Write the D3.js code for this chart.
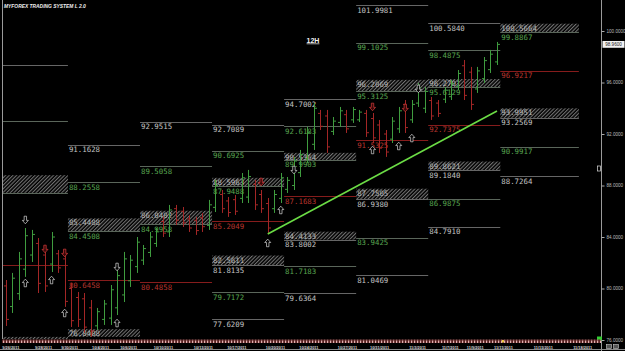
<!DOCTYPE html>
<html>
<head>
<meta charset="utf-8">
<script src="https://cdn.jsdelivr.net/npm/d3@7"></script>
<style>
  html, body { margin: 0; padding: 0; background: #000; overflow: hidden; }
  svg { display: block; }
</style>
</head>
<body>
<svg id="chart" width="625" height="351"></svg>
<script>
// 12H OHLC bars, index 0 = first bar on screen (26 Sep 2011)
const open = [80.2,78.6,79.6,81.5,82.6,83.5,82.6,81.9,82.7,82.3, 80.0,79.3,79.2,78.5,77.1,77.6,77.7,78.5,79.5,80.6,
              81.7,82.2,82.8,83.5,85.2,84.4,86.2,86.0,85.4,85.3, 85.5,84.9,86.3,87.3,86.8,86.9,87.0,87.1,88.1,87.3,
              86.6,86.2,87.0,87.7,88.0,89.0,90.1,91.2,93.6,93.4, 92.2,92.9,93.5,93.1,93.1,93.6,93.2,92.7,92.0,91.6,
              92.4,94.3,93.1,94.4,94.0,94.6,94.4,94.7,94.9,95.7, 97.3,96.8,95.5,96.3,97.0,97.6];
const high = [80.66,81.21,82.84,84.70,84.55,83.92,83.23,84.39,82.99,82.76, 80.43,79.73,79.65,79.11,78.49,79.11,80.27,81.44,82.84,82.60,
              84.00,83.38,84.39,84.70,85.56,86.49,86.49,86.33,85.71,85.56, 85.87,86.88,88.43,87.65,87.11,87.26,88.97,89.21,88.43,87.65,
              87.03,87.65,88.97,88.66,90.22,90.76,92.55,94.41,93.87,93.87, 93.32,94.10,93.87,94.10,93.87,93.87,93.63,93.09,92.31,93.32,
              94.10,94.64,94.64,95.96,95.65,94.88,94.64,95.65,96.20,96.97, 97.75,97.21,97.21,97.98,98.53,99.15];
const low  = [77.09,78.10,79.11,80.90,82.06,79.65,79.73,81.28,81.21,78.57, 77.01,77.01,76.55,76.24,76.78,77.17,77.17,77.94,78.95,80.12,
              81.21,81.83,82.45,83.23,84.00,84.00,84.93,84.78,84.39,84.16, 84.39,84.55,85.94,85.87,85.56,85.71,86.64,86.64,86.10,85.87,
              84.24,85.87,86.64,87.42,87.65,88.66,89.75,90.76,92.31,90.53, 91.92,92.55,92.08,92.86,92.93,91.77,91.30,90.53,90.22,91.30,
              92.08,92.08,92.86,94.10,93.63,93.09,93.32,94.41,94.64,95.42, 94.64,93.87,95.19,95.96,96.74,97.36];
const close = [77.6,80.8,82.3,84.1,84.2,80.4,80.2,84.0,81.6,79.0, 77.5,77.6,77.0,76.7,78.2,78.8,79.9,81.0,82.3,82.2,
               83.6,83.1,84.0,84.4,84.3,86.1,85.3,85.1,84.7,84.5, 84.8,86.5,88.0,86.2,85.9,86.0,88.6,88.7,86.5,86.2,
               84.7,87.3,88.6,88.4,89.9,90.4,92.1,94.0,92.6,91.0, 93.0,93.8,92.4,93.9,93.7,92.1,91.7,90.9,90.6,93.0,
               93.8,92.5,94.3,95.6,95.3,93.4,93.6,95.4,95.9,96.7, 95.0,94.3,96.9,97.7,98.2,98.96];

// weekly pivot segments, in bar units
const segBounds = [-12.5, 9.5, 20.5, 31.5, 42.5, 53.5, 64.5, 75.5, 87.5];

// level lines: [segment, price, kind]  w = resistance, g = green, r = red
const levels = [
  [0, 97.3602, "w"], [0, 93.0128, "g"], [0, 87.4300, "g"], [0, 81.8337, "r"],
  [1, 91.1628, "w"], [1, 88.2558, "g"], [1, 84.4508, "g"], [1, 80.6458, "r"],
  [2, 92.9515, "w"], [2, 89.5058, "g"], [2, 84.9958, "g"], [2, 80.4858, "r"],
  [3, 92.7089, "w"], [3, 90.6925, "g"], [3, 87.9488, "g"], [3, 85.2049, "r"], [3, 81.8135, "w"], [3, 79.7172, "g"], [3, 77.6209, "w"],
  [4, 94.7002, "w"], [4, 92.6183, "g"], [4, 89.9903, "g"], [4, 87.1683, "r"], [4, 83.8002, "w"], [4, 81.7183, "g"], [4, 79.6364, "w"],
  [5, 101.9981, "w"], [5, 99.1025, "g"], [5, 95.3125, "g"], [5, 91.5325, "r"], [5, 86.9380, "w"], [5, 83.9425, "g"], [5, 81.0469, "w"],
  [6, 100.5840, "w"], [6, 98.4875, "g"], [6, 95.6129, "g"], [6, 92.7375, "r"], [6, 89.1840, "w"], [6, 86.9875, "g"], [6, 84.7910, "w"],
  [7, 99.8867, "g"], [7, 96.9217, "r"], [7, 93.2569, "w"], [7, 90.9917, "g"], [7, 88.7264, "w"]
];

// hatched pivot zones: [segment, top, bottom]
const zones = [
  [0, 88.8013, 87.4300], [0, 76.2412, 76.0000],
  [1, 85.4488, 84.4508], [1, 76.8408, 76.2412],
  [2, 86.0402, 84.9958],
  [3, 88.5963, 87.9488], [3, 82.5611, 81.8135],
  [4, 90.5364, 89.9903], [4, 84.4133, 83.8002],
  [5, 96.2069, 95.3125], [5, 87.7505, 86.9380],
  [6, 96.2701, 95.6129], [6, 89.8621, 89.1840],
  [7, 100.5664, 99.8867], [7, 93.9951, 93.2569]
];

// signal arrows: [bar, price, direction, colour]
const arrows = [
  [3, 85.32, "d", "w"], [3, 80.43, "u", "w"], [6, 83.07, "d", "r"], [9, 82.76, "d", "r"],
  [7, 80.66, "u", "w"], [9, 78.10, "u", "w"], [17, 81.67, "d", "w"], [17, 77.32, "u", "w"],
  [40, 83.54, "u", "w"], [42, 86.10, "u", "w"], [44, 89.20, "d", "w"], [39, 88.27, "d", "r"],
  [56, 94.10, "d", "r"], [61, 94.02, "d", "r"], [63, 95.50, "d", "w"],
  [56, 90.76, "u", "w"], [60, 91.07, "u", "w"], [62, 91.69, "u", "w"]
];

const trendIdx = [40, 75];
const trendPrice = [84.23, 93.79];

const priceTicks = [76, 80, 84, 88, 92, 96, 100];
const lastPrice = 98.96;

const dateLabels = ["9/26/2011", "9/28/2011", "9/30/2011", "10/4/2011", "10/6/2011", "10/10/2011", "10/13/2011",
  "10/17/2011", "10/20/2011", "10/24/2011", "10/27/2011", "10/31/2011", "11/3/2011", "11/7/2011", "11/9/2011",
  "11/11/2011", "11/15/2011", "11/18/2011"];
const dateIdx = [0.7, 5.7, 9.7, 14.4, 18.7, 24, 30.1, 35.2, 41.1, 46.2, 52.1, 57, 62.8, 67.8, 71.6, 75.9, 82, 88];

const width = 625, height = 351;
const plotRight = 601, plotBottom = 339;

const svg = d3.select("#chart");
svg.append("rect").attr("width", width).attr("height", height).attr("fill", "#000");

const x = d3.scaleLinear().domain([0, 75]).range([5.7, 497]);
const y = d3.scaleLinear().domain([76, 100]).range([340, 31]);

const lineCol = { w: "#666", g: "#5a665a", r: "#861c1c" };
const textCol = { w: "#c4c4c4", g: "#58a650", r: "#b8352e" };
// labels only where the week starts on screen
const onScreen = d => x(segBounds[d[0]]) >= 0;

const defs = svg.append("defs");
defs.append("clipPath").attr("id", "plot")
  .append("rect").attr("x", 2).attr("y", 0).attr("width", plotRight - 2).attr("height", plotBottom);

defs.append("pattern").attr("id", "hatch")
  .attr("patternUnits", "userSpaceOnUse").attr("width", 2.6).attr("height", 10)
  .attr("patternTransform", "rotate(45)")
  .append("line").attr("x1", 0.6).attr("y1", 0).attr("x2", 0.6).attr("y2", 10)
  .attr("stroke", "#8c8c8c").attr("stroke-width", 0.9);

const strip = defs.append("pattern").attr("id", "strip")
  .attr("patternUnits", "userSpaceOnUse").attr("width", 3).attr("height", 4);
strip.append("rect").attr("width", 3).attr("height", 4).attr("fill", "#5a2424");
strip.append("rect").attr("x", 0).attr("y", 0.5).attr("width", 1.2).attr("height", 3).attr("fill", "#e0b0b0");

const plot = svg.append("g").attr("clip-path", "url(#plot)");

// hatched zones
plot.selectAll("rect.zone").data(zones).join("rect")
  .attr("class", "zone")
  .attr("x", d => x(segBounds[d[0]]))
  .attr("width", d => x(segBounds[d[0] + 1]) - x(segBounds[d[0]]))
  .attr("y", d => y(d[1]))
  .attr("height", d => y(d[2]) - y(d[1]))
  .attr("fill", "url(#hatch)");

plot.selectAll("text.zone").data(zones.filter(onScreen)).join("text")
  .attr("class", "zone")
  .attr("x", d => x(segBounds[d[0]]) + 1)
  .attr("y", d => y(d[1]) + 7)
  .attr("fill", "#b4b4b4")
  .attr("font-family", "DejaVu Sans Mono, monospace")
  .attr("font-size", 7.4)
  .text(d => d[1].toFixed(4));

// pivot lines + labels
plot.selectAll("line.lvl").data(levels).join("line")
  .attr("class", "lvl")
  .attr("x1", d => x(segBounds[d[0]]))
  .attr("x2", d => x(segBounds[d[0] + 1]))
  .attr("y1", d => Math.round(y(d[1])) + 0.5)
  .attr("y2", d => Math.round(y(d[1])) + 0.5)
  .attr("stroke", d => lineCol[d[2]])
  .attr("stroke-width", 1);

plot.selectAll("text.lvl").data(levels.filter(onScreen)).join("text")
  .attr("class", "lvl")
  .attr("x", d => x(segBounds[d[0]]) + 1)
  .attr("y", d => y(d[1]) + 7.5)
  .attr("fill", d => textCol[d[2]])
  .attr("font-family", "DejaVu Sans Mono, monospace")
  .attr("font-size", 7.4)
  .text(d => d[1].toFixed(4));

// OHLC bars
const bars = plot.selectAll("g.bar").data(d3.range(open.length)).join("g")
  .attr("class", "bar")
  .attr("stroke", i => close[i] >= open[i] ? "#3f9c3f" : "#a32626")
  .attr("stroke-width", 1);
bars.append("line")
  .attr("x1", i => Math.round(x(i)) + 0.5).attr("x2", i => Math.round(x(i)) + 0.5)
  .attr("y1", i => y(high[i])).attr("y2", i => y(low[i]));
bars.append("line")
  .attr("x1", i => Math.round(x(i)) - 2).attr("x2", i => Math.round(x(i)) + 0.5)
  .attr("y1", i => y(open[i])).attr("y2", i => y(open[i]));
bars.append("line")
  .attr("x1", i => Math.round(x(i)) + 0.5).attr("x2", i => Math.round(x(i)) + 3)
  .attr("y1", i => y(close[i])).attr("y2", i => y(close[i]));

// trend line
plot.append("line")
  .attr("x1", x(trendIdx[0])).attr("y1", y(trendPrice[0]))
  .attr("x2", x(trendIdx[1])).attr("y2", y(trendPrice[1]))
  .attr("stroke", "#6bdc45").attr("stroke-width", 1.6);

// arrows
const arrowPath = "M0,-3.8 L3,-0.4 L1.2,-0.4 L1.2,3.8 L-1.2,3.8 L-1.2,-0.4 L-3,-0.4 Z";
plot.selectAll("path.arrow").data(arrows).join("path")
  .attr("class", "arrow")
  .attr("d", arrowPath)
  .attr("transform", d => `translate(${x(d[0])},${y(d[1])}) scale(1,${d[2] === "u" ? 1 : -1})`)
  .attr("fill", d => d[3] === "r" ? "#3a0808" : "#000")
  .attr("stroke", d => d[3] === "r" ? "#d83c3c" : "#d8d8d8")
  .attr("stroke-width", 0.7);

// frame
svg.append("line").attr("x1", 2.5).attr("x2", 2.5).attr("y1", 0).attr("y2", plotBottom)
  .attr("stroke", "#9a9a9a").attr("stroke-width", 1);
svg.append("line").attr("x1", plotRight + 0.5).attr("x2", plotRight + 0.5).attr("y1", 0).attr("y2", height)
  .attr("stroke", "#9a9a9a").attr("stroke-width", 1);
svg.append("line").attr("x1", 0).attr("x2", width).attr("y1", 349.5).attr("y2", 349.5)
  .attr("stroke", "#8a8a8a").attr("stroke-width", 1);

// price axis
const yAxis = svg.append("g")
  .attr("transform", `translate(${plotRight + 0.5},0)`)
  .call(d3.axisRight(y).tickValues(priceTicks).tickFormat(d3.format(".4f")).tickSize(3).tickPadding(2));
yAxis.select(".domain").remove();
yAxis.selectAll("line").attr("stroke", "#aaa");
yAxis.selectAll("text").attr("fill", "#bbb").attr("font-size", 4.6)
  .attr("font-family", "Liberation Sans, Arial, sans-serif");

// last price tag
svg.append("rect").attr("x", plotRight + 1.5).attr("y", y(lastPrice) - 3.4)
  .attr("width", 22).attr("height", 6.8).attr("fill", "#f2f2f2");
svg.append("text").attr("x", plotRight + 12.5).attr("y", y(lastPrice) + 1.7)
  .attr("text-anchor", "middle").attr("font-size", 4.6).attr("fill", "#222")
  .attr("font-family", "Liberation Sans, Arial, sans-serif")
  .text(lastPrice.toFixed(4));

// small markers on the price scale
svg.append("rect").attr("x", 597.5).attr("y", 166).attr("width", 3).attr("height", 5)
  .attr("fill", "none").attr("stroke", "#ddd").attr("stroke-width", 0.7);
svg.append("rect").attr("x", 597).attr("y", 336.5).attr("width", 5).attr("height", 4).attr("fill", "#33cc33");

// date strip + labels
svg.append("rect").attr("x", 2).attr("y", plotBottom + 0.5).attr("width", plotRight - 2).attr("height", 3.5)
  .attr("fill", "url(#strip)");
svg.append("rect").attr("x", x(75.9) - 1).attr("y", plotBottom + 1).attr("width", 2).attr("height", 2.5)
  .attr("fill", "#f0d040");

const xAxis = svg.append("g")
  .attr("transform", `translate(0,${plotBottom + 4})`)
  .call(d3.axisBottom(x).tickValues(dateIdx).tickFormat((d, i) => dateLabels[i]).tickSize(0).tickPadding(3.6));
xAxis.select(".domain").remove();
xAxis.selectAll("text").attr("fill", "#d8d8d8").attr("font-size", 3.9).attr("font-weight", "bold")
  .attr("font-family", "Liberation Sans, Arial, sans-serif");

// bottom-right corner buttons
svg.append("rect").attr("x", 606.5).attr("y", 344.5).attr("width", 5).attr("height", 4)
  .attr("fill", "#555").attr("stroke", "#ccc").attr("stroke-width", 0.6);
svg.append("rect").attr("x", 613.5).attr("y", 344.5).attr("width", 5).attr("height", 4)
  .attr("fill", "#555").attr("stroke", "#ccc").attr("stroke-width", 0.6);

// titles
svg.append("text").attr("x", 4).attr("y", 7.5)
  .attr("fill", "#f0f0f0").attr("font-size", 4.9).attr("font-weight", "bold").attr("font-style", "italic")
  .attr("font-family", "Liberation Sans, Arial, sans-serif")
  .text("MYFOREX TRADING SYSTEM L 2.0");

svg.append("text").attr("x", 313).attr("y", 42.5).attr("text-anchor", "middle")
  .attr("fill", "#f4f4f4").attr("font-size", 7).attr("font-weight", "bold")
  .attr("text-decoration", "underline")
  .attr("font-family", "Liberation Sans, Arial, sans-serif")
  .text("12H");
</script>
</body>
</html>
